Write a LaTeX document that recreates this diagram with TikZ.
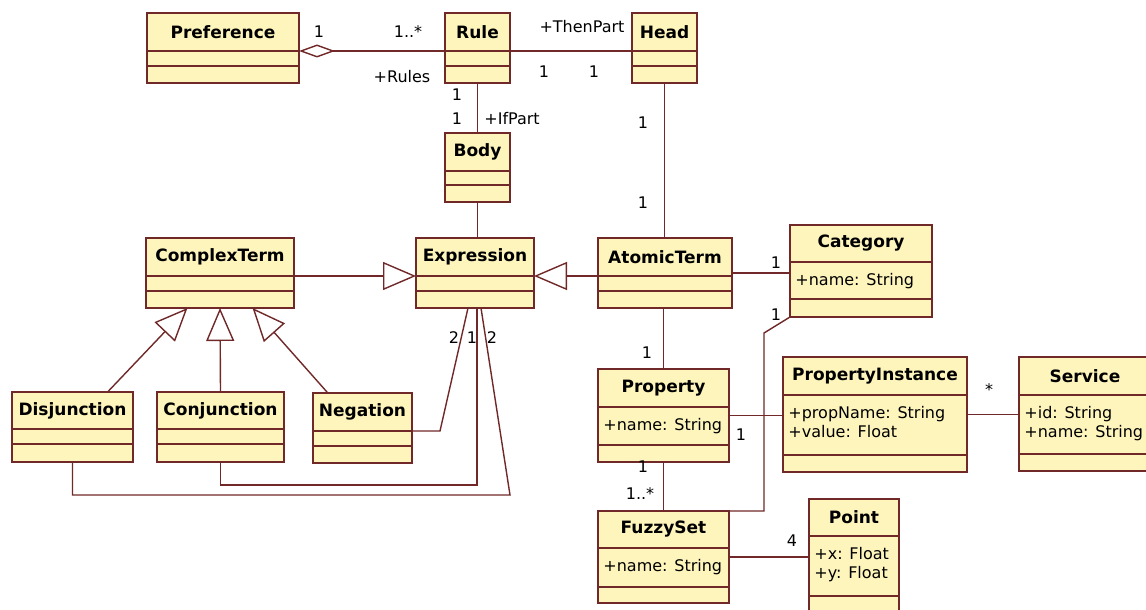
\documentclass[tikz,border=0pt]{standalone}
\usepackage{fontspec}
\setmainfont{DejaVu Sans}
\definecolor{ClassFillBase}{RGB}{254,245,188}
\definecolor{ClassBorderBase}{RGB}{112,40,40}
\colorlet{ClassFill}{ClassFillBase}
\colorlet{ClassBorder}{ClassBorderBase}
\colorlet{LinkColour}{ClassBorderBase}
\usetikzlibrary{calc, fit, arrows.meta}

\tikzset{
  classbox/.style = {draw = ClassBorder, fill = ClassFill, line width = 0.8pt, inner sep = 0pt, outer sep = 0pt},
  classline/.style = {draw = ClassBorder, line width = 0.8pt},
  classname/.style = {font = \fontsize{8.5}{10}\selectfont\bfseries, inner sep = 0pt},
  attrtext/.style = {font = \fontsize{8}{9.5}\selectfont, inner sep = 0pt, anchor = base west},
  mult/.style = {font = \fontsize{8}{9.5}\selectfont, inner sep = 0pt},
  assoc/.style = {draw = LinkColour, line width = 0.7pt},
  gen/.style = {assoc, -{Triangle[open, length = 16.5pt, width = 14pt]}},
}

% name, top left, bottom right, header line, middle line, title
\newcommand{\umlclass}[6]{%
  \node[classbox, fit = {(#2) (#3)}] (#1) {};
  \coordinate (#1-hw) at (#1.west |- 0,#4);
  \coordinate (#1-he) at (#1.east |- 0,#4);
  \draw[classline] (#1-hw) -- (#1-he);
  \draw[classline] (#1.west |- 0,#5) -- (#1.east |- 0,#5);
  \node[classname] (#1-t) at ($(#1.north)!0.5!(#1.north |- #1-hw)$) {#6};
}
\newcommand{\umlattrs}[2]{%
  \foreach \attr [count = \k] in {#2}
    \node[attrtext] (#1-a\k) at ([xshift = 2.5pt, yshift = {-11.5pt - (\k - 1) * 9.5pt}]#1-hw) {\attr};
}

\begin{document}
\begin{tikzpicture}[x = 0.5pt, y = -0.5pt]

\fill[white] (0, 0) rectangle (1146, 610);
\useasboundingbox (0, 0) rectangle (1146, 610);

\umlclass{pref}{147,13}{299,83}{51}{66}{Preference}
\umlclass{rule}{445,13}{510,83}{51}{66}{Rule}
\umlclass{head}{632,13}{697,83}{51}{66}{Head}
\umlclass{body}{445,133}{510,202}{171}{185}{Body}
\umlclass{cterm}{146,238}{294,308}{276}{291}{ComplexTerm}
\umlclass{expr}{416,238}{534,308}{276}{291}{Expression}
\umlclass{aterm}{598,238}{732,308}{276}{291}{AtomicTerm}
\umlclass{cat}{790,225}{932,317}{262}{299}{Category}
\umlclass{prop}{598,369}{729,462}{407}{445}{Property}
\umlclass{pinst}{783,357}{967,472}{395}{455}{PropertyInstance}
\umlclass{serv}{1019,357}{1151,471}{395}{454}{Service}
\umlclass{fset}{598,511}{729,603}{548}{587}{FuzzySet}
\umlclass{point}{809,499}{899,614}{536}{596}{Point}
\umlclass{disj}{12,392}{133,462}{429}{444}{Disjunction}
\umlclass{conj}{157,392}{284,462}{429}{444}{Conjunction}
\umlclass{neg}{313,393}{412,463}{431}{446}{Negation}

\umlattrs{cat}{+name: String}
\umlattrs{prop}{+name: String}
\umlattrs{pinst}{+propName: String, +value: Float}
\umlattrs{serv}{+id: String, +name: String}
\umlattrs{fset}{+name: String}
\umlattrs{point}{+x: Float, +y: Float}

\draw[assoc, {Diamond[open, length = 18pt, width = 6.5pt]}-] (pref-he) -- (rule-hw);
\draw[assoc] (rule-he) -- (head-hw);
\draw[assoc] (rule.south) -- (body.north);
\draw[assoc] (body.south) -- (body.south |- expr.north);
\draw[assoc] (head.south) -- (head.south |- aterm.north);
\draw[assoc] (prop.north |- aterm.south) -- (prop.north);
\draw[assoc] (prop.south) -- (fset.north);
\draw[assoc] (aterm.east) -- (aterm.east -| cat.west);
\draw[assoc] (cat.south west) -- ++(-26, 16) |- (fset.north east);
\draw[assoc] (prop.east) -- (prop.east -| pinst.west);
\draw[assoc] (pinst.east) -- (pinst.east -| serv.west);
\draw[assoc] (fset.east) -- (fset.east -| point.west);

\draw[gen] (cterm-he) -- (expr-hw);
\draw[gen] (aterm-hw) -- (expr-he);
\draw[gen] ($(disj.north west)!0.79!(disj.north east)$) -- ($(cterm.south west)!0.28!(cterm.south east)$);
\draw[gen] (conj.north) -- (cterm.south);
\draw[gen] ($(neg.north west)!0.15!(neg.north east)$) -- ($(cterm.south west)!0.72!(cterm.south east)$);

\draw[assoc] (neg-he) -- ++(28, 0) -- ([xshift = -3.5pt]expr.south);
\draw[assoc] (conj.south) -- ++(0, 23) -| ([xshift = 1pt]expr.south);
\draw[assoc] (disj.south) -- ++(0, 33) -- ++(437.5, 0) -- ([xshift = 3pt]expr.south);

\node[mult] (m-pref) at (319, 32) {1};
\node[mult] (m-rules) at (408, 32) {1..*};
\node[mult] (r-rules) at (402, 77) {+Rules};
\node[mult] (r-then) at (582, 27) {+ThenPart};
\node[mult] (m-then1) at (544, 72) {1};
\node[mult] (m-then2) at (594, 72) {1};
\node[mult] (m-if1) at (457, 95) {1};
\node[mult] (m-if2) at (457, 119) {1};
\node[mult, anchor = west] (r-if) at (484, 119) {+IfPart};
\node[mult] (m-head1) at (643, 123) {1};
\node[mult] (m-head2) at (643, 203) {1};
\node[mult] (m-cat1) at (776, 263) {1};
\node[mult] (m-cat2) at (776, 315) {1};
\node[mult] (m-prop1) at (647, 353) {1};
\node[mult] (m-prop2) at (741, 435) {1};
\node[mult] (m-fset1) at (643, 467) {1};
\node[mult] (m-fset2) at (640, 494) {1..*};
\node[mult] (m-serv) at (989, 390) {*};
\node[mult] (m-point) at (792, 541) {4};
\node[mult] (m-expr1) at (454, 338) {2};
\node[mult] (m-expr2) at (472, 338) {1};
\node[mult] (m-expr3) at (492, 338) {2};

\end{tikzpicture}
\end{document}
